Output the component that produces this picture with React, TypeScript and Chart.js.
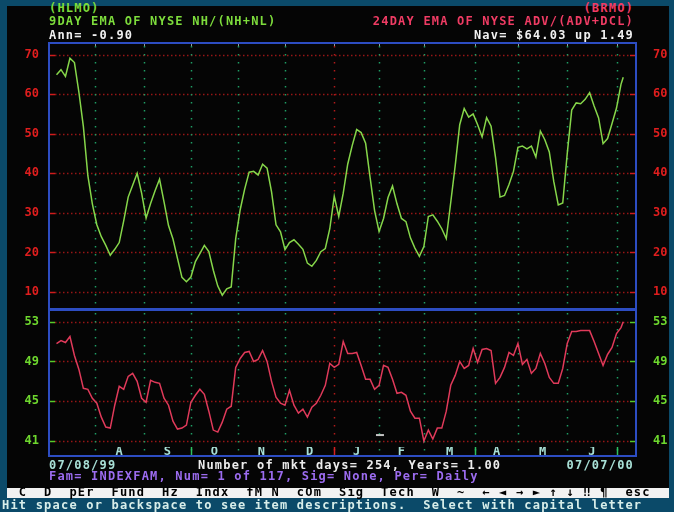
import React, { useEffect, useRef } from 'react';
import { Chart, registerables } from 'chart.js';

Chart.register(...registerables);

// ---- data (trading day number since 07/08/99) ----
const tradingDays = [
  0, 2, 4, 6, 8, 10, 12, 14, 16, 18, 20, 22, 24, 26, 28, 30, 32, 34, 36, 38,
  40, 42, 44, 46, 48, 50, 52, 54, 56, 58, 60, 62, 64, 66, 68, 70, 72, 74, 76, 78,
  80, 82, 84, 86, 88, 90, 92, 94, 96, 98, 100, 102, 104, 106, 108, 110, 112, 114, 116, 118,
  120, 122, 124, 126, 128, 130, 132, 134, 136, 138, 140, 142, 144, 146, 148, 150, 152, 154, 156, 158,
  160, 162, 164, 166, 168, 170, 172, 174, 176, 178, 180, 182, 184, 186, 188, 190, 192, 194, 196, 198,
  200, 202, 204, 206, 208, 210, 212, 214, 216, 218, 220, 222, 224, 226, 228, 230, 232, 234, 236, 238,
  240, 242, 244, 246, 248, 250, 252, 253,
];

// 9DAY EMA OF NYSE NH/(NH+NL)
const hlmoValues = [
  64.9, 66.2, 64.5, 69.1, 68.0, 60.5, 51.8, 39.4, 32.3, 27.0, 24.0, 21.8, 19.3, 20.8, 22.5, 28.0, 34.0, 37.0, 40.0, 35.0,
  28.7, 32.4, 35.6, 38.5, 32.8, 26.8, 23.4, 18.5, 13.7, 12.6, 13.8, 17.7, 19.7, 21.8, 20.2, 15.5, 11.5, 9.2, 10.8, 11.3,
  23.5, 30.8, 36.0, 40.3, 40.5, 39.6, 42.3, 41.3, 35.3, 27.0, 25.2, 20.7, 22.5, 23.2, 22.1, 20.8, 17.3, 16.5, 18.0, 20.2,
  21.0, 26.0, 34.2, 29.1, 35.0, 42.3, 47.0, 51.1, 50.3, 47.6, 38.9, 30.6, 25.3, 28.6, 33.9, 36.8, 32.3, 28.6, 27.8, 23.7,
  21.1, 19.0, 21.5, 29.1, 29.5, 27.9, 26.0, 23.5, 32.7, 42.0, 52.3, 56.4, 54.2, 55.0, 52.3, 49.2, 54.1, 51.9, 44.0, 34.0,
  34.4, 37.2, 40.5, 46.6, 46.9, 46.2, 46.9, 44.1, 50.7, 48.5, 45.4, 37.9, 32.0, 32.5, 45.0, 56.0, 57.8, 57.6, 58.7, 60.4,
  57.0, 54.0, 47.5, 48.8, 52.6, 56.5, 62.5, 64.3,
];

// 24DAY EMA OF NYSE ADV/(ADV+DCL)
const brmoValues = [
  50.8, 51.1, 50.9, 51.5, 49.6, 48.2, 46.3, 46.2, 45.3, 44.8, 43.4, 42.4, 42.3, 44.6, 46.5, 46.2, 47.5, 47.8, 47.0, 45.3,
  44.9, 47.1, 46.9, 46.8, 45.3, 44.6, 43.0, 42.2, 42.3, 42.6, 44.9, 45.6, 46.2, 45.7, 44.0, 42.1, 41.9, 42.9, 44.2, 44.5,
  48.4, 49.3, 49.9, 50.0, 49.0, 49.2, 50.1, 49.0, 47.0, 45.4, 44.8, 44.6, 46.1, 44.6, 43.8, 44.2, 43.4, 44.4, 44.8, 45.6,
  46.6, 48.8, 48.4, 48.7, 51.0, 49.8, 49.8, 49.9, 48.6, 47.2, 47.2, 46.2, 46.6, 48.6, 48.4, 47.2, 45.8, 45.9, 45.6, 44.0,
  43.3, 43.3, 41.0, 42.1, 41.2, 42.3, 42.3, 44.0, 46.6, 47.6, 49.0, 48.3, 48.6, 50.3, 48.9, 50.2, 50.3, 50.1, 46.8, 47.4,
  48.4, 49.9, 49.6, 50.8, 48.7, 49.2, 47.8, 48.3, 49.8, 48.8, 47.4, 46.8, 46.8, 48.3, 50.8, 52.0, 52.0, 52.1, 52.1, 52.1,
  51.0, 49.8, 48.6, 49.7, 50.4, 51.8, 52.4, 53.0,
];

// small cursor mark seen in the lower panel
const lowerCursorDays = [144.4];
const lowerCursorValues = [41.6];

const upperTicks = [10, 20, 30, 40, 50, 60, 70];
const lowerTicks = [41, 45, 49, 53];

// first trading day of each month (Aug 99 .. Jul 00)
const monthStartDays = [17, 39, 60, 81, 102, 124, 144, 164, 187, 206, 228, 250];
const monthNumbers = [8, 9, 10, 11, 12, 1, 2, 3, 4, 5, 6, 7];
const monthLetters = ['A', 'S', 'O', 'N', 'D', 'J', 'F', 'M', 'A', 'M', 'J', 'J'];

// ---- style ----
const TEAL = '#0b4a69';
const BLACK = '#050505';
const FRAME = '#2d4dc2';
const GREEN_LINE = '#86d64a';
const RED_LINE = '#e03a5a';
const RED_LABEL = '#e01e1e';
const GREEN_LABEL = '#6ed82e';
const GRID_RED = '#961616';
const GRID_GREEN = '#1f9c64';
const MONTH_TXT = '#a8e0d6';
const MONO = '"DejaVu Sans Mono", monospace';

const X_MIN = -3.35;
const X_MAX = 258.7;

function line(ctx: CanvasRenderingContext2D, x1: number, y1: number, x2: number, y2: number) {
  ctx.beginPath();
  ctx.moveTo(x1, y1);
  ctx.lineTo(x2, y2);
  ctx.stroke();
}

function makeGridPlugin(kind: 'upper' | 'lower') {
  const ticks = kind === 'upper' ? upperTicks : lowerTicks;
  const edgeColor = kind === 'upper' ? '#d01c1c' : '#58c82a';
  return {
    id: 'dosGrid' + kind,
    beforeDatasetsDraw(chart: any) {
      const { ctx, chartArea: a, scales } = chart;
      const xs = scales.x;
      const ys = scales.y;
      const bottom = kind === 'lower' ? a.bottom + 9 : a.bottom;
      ctx.save();
      // horizontal dotted grid
      ctx.lineWidth = 1.5;
      ctx.setLineDash([1.5, 2.5]);
      ctx.strokeStyle = GRID_RED;
      for (const v of ticks) {
        const y = Math.round(ys.getPixelForValue(v)) + 0.5;
        line(ctx, a.left + 6, y, a.right - 6, y);
      }
      // vertical dotted month lines
      ctx.setLineDash([1.5, 6.5]);
      monthStartDays.forEach((d, i) => {
        const x = Math.round(xs.getPixelForValue(d)) + 0.5;
        ctx.strokeStyle = monthNumbers[i] === 1 ? '#b01a1a' : GRID_GREEN;
        line(ctx, x, a.top + 3, x, bottom);
      });
      ctx.setLineDash([]);
      // edge ticks
      ctx.strokeStyle = edgeColor;
      ctx.lineWidth = 1.5;
      for (const v of ticks) {
        const y = Math.round(ys.getPixelForValue(v)) + 0.5;
        line(ctx, a.left, y, a.left + 6, y);
        line(ctx, a.right - 6, y, a.right, y);
      }
      // month ticks at top (upper) and quarter ticks at bottom (lower)
      monthStartDays.forEach((d, i) => {
        const x = Math.round(xs.getPixelForValue(d)) + 0.5;
        if (kind === 'upper') {
          ctx.strokeStyle = '#9a9a9a';
          ctx.lineWidth = 1;
          line(ctx, x, a.top + 1, x, a.top + 3);
        } else if ((monthNumbers[i] - 1) % 3 === 0) {
          ctx.strokeStyle = monthNumbers[i] === 1 ? '#d42020' : '#2cc060';
          ctx.lineWidth = 1.5;
          line(ctx, x, bottom - 9, x, bottom);
        }
      });
      ctx.restore();
    },
    afterDraw(chart: any) {
      const { ctx, chartArea: a } = chart;
      const bottom = kind === 'lower' ? a.bottom + 9 : a.bottom;
      ctx.save();
      ctx.strokeStyle = FRAME;
      ctx.lineWidth = 2;
      ctx.strokeRect(a.left, a.top, a.right - a.left, bottom - a.top);
      ctx.restore();
    },
  };
}

const tickFont = { family: MONO, size: 12, weight: 'bold' as const, lineHeight: 1 };

function yAxis(pos: 'left' | 'right', min: number, max: number, values: number[], color: string) {
  return {
    position: pos,
    min,
    max,
    afterBuildTicks: (s: any) => {
      s.ticks = values.map((v) => ({ value: v }));
    },
    afterFit: (s: any) => {
      s.width = pos === 'left' ? 42 : 33;
      s.paddingTop = 0;
      s.paddingBottom = 0;
    },
    grid: { display: false, drawTicks: false },
    border: { display: false },
    ticks: { color, font: tickFont, padding: pos === 'left' ? 10 : 17 },
  };
}

const txt: React.CSSProperties = {
  position: 'absolute',
  fontFamily: MONO,
  fontWeight: 'bold',
  fontSize: 12,
  letterSpacing: '1.2px',
  lineHeight: '12px',
  whiteSpace: 'pre',
  margin: 0,
};

export default function App() {
  const upRef = useRef<HTMLCanvasElement>(null);
  const loRef = useRef<HTMLCanvasElement>(null);

  useEffect(() => {
    const upper = new Chart(upRef.current as HTMLCanvasElement, {
      type: 'line',
      data: {
        datasets: [
          {
            label: 'HLMO',
            data: tradingDays.map((d, i) => ({ x: d, y: hlmoValues[i] })),
            borderColor: GREEN_LINE,
            borderWidth: 1.5,
            pointRadius: 0,
            tension: 0,
          },
        ],
      },
      options: {
        responsive: false,
        animation: false,
        events: [],
        layout: { padding: { top: 5, bottom: 5, left: 0, right: 0 } },
        plugins: { legend: { display: false }, tooltip: { enabled: false } },
        scales: {
          x: { type: 'linear', display: false, min: X_MIN, max: X_MAX },
          y: yAxis('left', 5.71, 72.95, upperTicks, RED_LABEL) as any,
          yR: yAxis('right', 5.71, 72.95, upperTicks, RED_LABEL) as any,
        },
      },
      plugins: [makeGridPlugin('upper')],
    });

    const lower = new Chart(loRef.current as HTMLCanvasElement, {
      type: 'line',
      data: {
        datasets: [
          {
            label: 'BRMO',
            data: tradingDays.map((d, i) => ({ x: d, y: brmoValues[i] })),
            borderColor: RED_LINE,
            borderWidth: 1.5,
            pointRadius: 0,
            tension: 0,
          },
          {
            label: 'cursor',
            data: lowerCursorDays.map((d, i) => ({ x: d, y: lowerCursorValues[i] })),
            showLine: false,
            pointStyle: 'line',
            pointRadius: 4,
            borderWidth: 2,
            borderColor: '#c4c4c4',
          } as any,
        ],
      },
      options: {
        responsive: false,
        animation: false,
        events: [],
        layout: { padding: { top: 5, bottom: 0, left: 0, right: 0 } },
        plugins: { legend: { display: false }, tooltip: { enabled: false } },
        scales: {
          x: {
            type: 'linear',
            position: 'bottom',
            min: X_MIN,
            max: X_MAX,
            afterBuildTicks: (s: any) => {
              s.ticks = monthStartDays.slice(0, -1).map((d, i) => ({ value: (d + monthStartDays[i + 1]) / 2 }));
            },
            afterFit: (s: any) => {
              s.height = 17;
              s.paddingLeft = 0;
              s.paddingRight = 0;
            },
            grid: { display: false, drawTicks: false },
            border: { display: false },
            ticks: {
              autoSkip: false,
              maxRotation: 0,
              minRotation: 0,
              padding: -1,
              color: MONTH_TXT,
              font: tickFont,
              callback: (_v: any, i: number) => monthLetters[i],
            },
          } as any,
          y: yAxis('left', 40.4, 54.17, lowerTicks, GREEN_LABEL) as any,
          yR: yAxis('right', 40.4, 54.17, lowerTicks, GREEN_LABEL) as any,
        },
      },
      plugins: [makeGridPlugin('lower')],
    });

    return () => {
      upper.destroy();
      lower.destroy();
    };
  }, []);

  return (
    <div style={{ position: 'fixed', left: 0, top: 0, width: 674, height: 512, background: TEAL, overflow: 'hidden' }}>
      <div style={{ position: 'absolute', left: 7, top: 6, width: 662, height: 482, background: BLACK }} />
      <canvas
        ref={upRef}
        width={662}
        height={276}
        style={{ position: 'absolute', left: 7, top: 38, width: 662, height: 276 }}
      />
      <canvas
        ref={loRef}
        width={662}
        height={160}
        style={{ position: 'absolute', left: 7, top: 304, width: 662, height: 160 }}
      />
      <div style={{ ...txt, left: 49, top: 2, color: '#7ddc3c' }}>(HLMO)</div>
      <div style={{ ...txt, left: 49, top: 15, color: '#7ddc3c' }}>9DAY EMA OF NYSE NH/(NH+NL)</div>
      <div style={{ ...txt, left: 49, top: 29, color: '#f0f0f0' }}>Ann= -0.90</div>
      <div style={{ ...txt, right: 40, top: 2, color: '#f03c64' }}>(BRMO)</div>
      <div style={{ ...txt, right: 40, top: 15, color: '#f03c64' }}>24DAY EMA OF NYSE ADV/(ADV+DCL)</div>
      <div style={{ ...txt, right: 40, top: 29, color: '#f0f0f0' }}>Nav= $64.03 up 1.49</div>
      <div style={{ ...txt, left: 49, top: 459, color: MONTH_TXT }}>07/08/99</div>
      <div style={{ ...txt, left: 198, top: 459, color: '#ececec' }}>Number of mkt days= 254, Years= 1.00</div>
      <div style={{ ...txt, right: 40, top: 459, color: MONTH_TXT }}>07/07/00</div>
      <div style={{ ...txt, left: 49, top: 470, color: '#9c6cf0' }}>Fam= INDEXFAM, Num= 1 of 117, Sig= None, Per= Daily</div>
      <div style={{ position: 'absolute', left: 7, top: 488, width: 662, height: 10, background: '#f2f2f2' }} />
      <div style={{ ...txt, left: 2, top: 487, color: '#000000', lineHeight: '11px' }}>
        {'  C  D  pEr  Fund  Hz  Indx  fM N  cOm  Sig  Tech  W  ~  \u2190 \u25c4 \u2192 \u25ba \u2191 \u2193 \u203c \u00b6  esc'}
      </div>
      <div style={{ ...txt, left: 2, top: 499, color: '#d8eeea' }}>
        {'Hit space or backspace to see item descriptions.  Select with capital letter'}
      </div>
    </div>
  );
}
